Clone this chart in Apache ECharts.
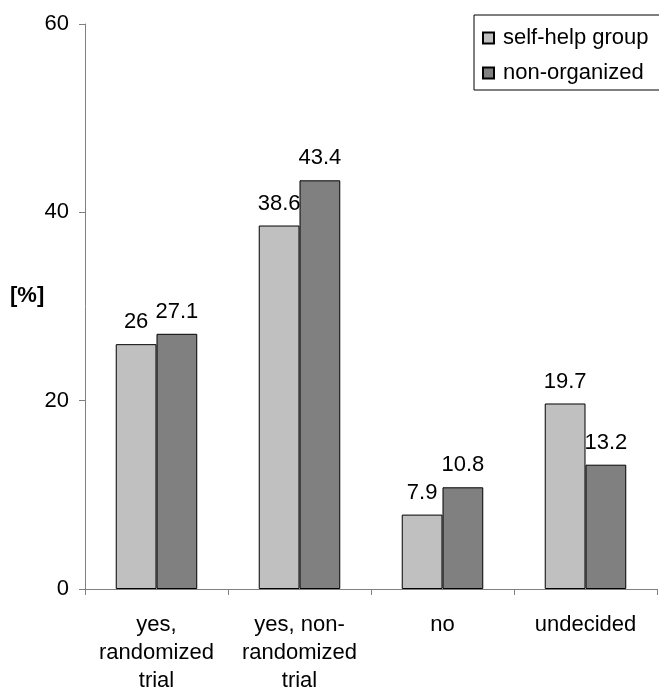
<!DOCTYPE html>
<html>
<head>
<meta charset="utf-8">
<script src="https://cdn.jsdelivr.net/npm/echarts@6/dist/echarts.min.js"></script>
<style>
html,body{margin:0;padding:0;background:#fff;}
#chart{width:659px;height:691px;}
</style>
</head>
<body>
<div id="chart"></div>
<script>
var categories = ['yes,\nrandomized\ntrial', 'yes, non-\nrandomized\ntrial', 'no', 'undecided'];
var selfHelp = [26, 38.6, 7.9, 19.7];
var nonOrganized = [27.1, 43.4, 10.8, 13.2];
var seriesNames = ['self-help group', 'non-organized'];
var yTicks = {min: 0, max: 60, interval: 20};

var FONT = 'Liberation Sans, Arial, sans-serif';
var FS = 22;
var chart = echarts.init(document.getElementById('chart'), null, {renderer: 'canvas'});
function barSeries(name, data, color) {
  return {
    name: name,
    type: 'bar',
    data: data,
    barGap: '0%',
    barCategoryGap: '43%',
    itemStyle: {color: color, borderColor: '#000', borderWidth: 1},
    label: {
      show: true, position: 'top', distance: 11,
      color: '#000', fontSize: FS, fontFamily: FONT
    }
  };
}
chart.setOption({
  animation: false,
  backgroundColor: '#fff',
  textStyle: {fontFamily: FONT},
  grid: {left: 85, right: 2, top: 24, bottom: 102, containLabel: false, outerBoundsMode: 'none'},
  legend: {
    orient: 'vertical',
    left: 474, top: 15,
    padding: [12, 20, 6, 8],
    itemGap: 13,
    itemWidth: 11, itemHeight: 11,
    icon: 'rect',
    borderColor: '#000', borderWidth: 1,
    textStyle: {fontSize: FS, color: '#000', fontFamily: FONT, padding: [0, 0, 0, 4]},
    data: seriesNames
  },
  xAxis: {
    type: 'category',
    data: categories,
    axisLine: {lineStyle: {color: '#808080', width: 1}},
    axisTick: {show: true, length: 6, lineStyle: {color: '#808080'}},
    axisLabel: {interval: 0, color: '#000', fontSize: FS, lineHeight: 28, margin: 22, fontFamily: FONT}
  },
  yAxis: {
    type: 'value',
    min: yTicks.min, max: yTicks.max, interval: yTicks.interval,
    axisLine: {show: true, lineStyle: {color: '#808080', width: 1}},
    axisTick: {show: true, length: 6, lineStyle: {color: '#808080'}},
    splitLine: {show: false},
    axisLabel: {color: '#000', fontSize: FS, margin: 16, fontFamily: FONT}
  },
  graphic: [{
    type: 'text', left: 10, top: 285,
    style: {text: '[%]', fontSize: FS, fontWeight: 'bold', fill: '#000', fontFamily: FONT}
  }],
  series: [
    barSeries(seriesNames[0], selfHelp, '#c0c0c0'),
    barSeries(seriesNames[1], nonOrganized, '#808080')
  ]
});
</script>
</body>
</html>
